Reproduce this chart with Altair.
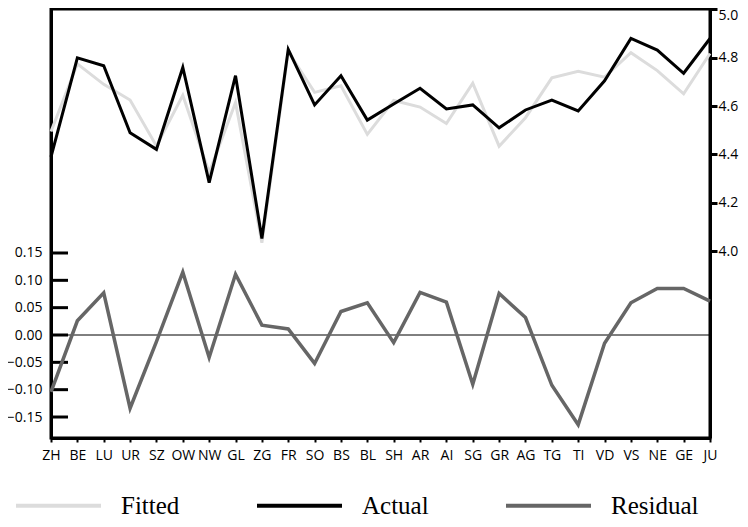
import altair as alt
import pandas as pd

cantons = ["ZH", "BE", "LU", "UR", "SZ", "OW", "NW", "GL", "ZG", "FR", "SO", "BS", "BL",
           "SH", "AR", "AI", "SG", "GR", "AG", "TG", "TI", "VD", "VS", "NE", "GE", "JU"]
actual = [4.390, 4.800, 4.767, 4.490, 4.421, 4.760, 4.283, 4.726, 4.052, 4.835, 4.605, 4.726, 4.542,
          4.609, 4.674, 4.588, 4.605, 4.510, 4.584, 4.625, 4.580, 4.705, 4.880, 4.832, 4.736, 4.880]
fitted = [4.495, 4.775, 4.690, 4.625, 4.435, 4.645, 4.325, 4.615, 4.034, 4.825, 4.657, 4.684, 4.483,
          4.623, 4.596, 4.528, 4.695, 4.434, 4.552, 4.717, 4.744, 4.720, 4.821, 4.747, 4.651, 4.818]
residual = [-0.104, 0.026, 0.077, -0.134, -0.012, 0.115, -0.041, 0.111, 0.018, 0.011, -0.052, 0.043, 0.059,
            -0.014, 0.078, 0.060, -0.090, 0.076, 0.032, -0.092, -0.164, -0.015, 0.059, 0.085, 0.085, 0.062]

resid_ticks = [-0.15, -0.10, -0.05, 0.00, 0.05, 0.10, 0.15]
level_ticks = [4.0, 4.2, 4.4, 4.6, 4.8, 5.0]
series = ["Fitted", "Actual", "Residual"]
colors = ["#dcdcdc", "#000000", "#666666"]

top_df = pd.DataFrame({
    "canton": cantons * 2,
    "value": fitted + actual,
    "series": ["Fitted"] * len(cantons) + ["Actual"] * len(cantons),
    "order": [0] * len(cantons) + [1] * len(cantons),
})
res_df = pd.DataFrame({"canton": cantons, "value": residual, "series": ["Residual"] * len(cantons)})
tick_df = pd.DataFrame({"value": resid_ticks})
zero_df = pd.DataFrame({"value": [0.0]})

common = dict(grid=False, domainColor="black", tickColor="black", labelColor="black",
              labelFont="Open Sans", domainWidth=3, title=None)

x_enc = alt.X("canton:N", sort=cantons,
              scale=alt.Scale(type="point", padding=0, domain=cantons),
              axis=alt.Axis(tickSize=4, tickWidth=2, labelPadding=6,
                            labelFontSize=14, labelAngle=0, **common))

res_scale = alt.Scale(domain=[-0.1884, 0.5963], nice=False, zero=False)
res_axis = alt.Axis(orient="left", values=resid_ticks, format=".2f",
                    ticks=False, tickSize=0, labelPadding=9, labelFontSize=14, **common)
y_res = alt.Y("value:Q", scale=res_scale, axis=res_axis)

legend = alt.Legend(title=None, orient="none", legendX=-37, legendY=452, direction="horizontal",
                    columns=3, symbolType="stroke", symbolSize=7225, symbolStrokeWidth=4,
                    labelFont="Liberation Serif", labelFontSize=25, labelOffset=18,
                    columnPadding=69, padding=0, labelColor="black")
color_enc = alt.Color("series:N", scale=alt.Scale(domain=series, range=colors), legend=legend)

zero_rule = alt.Chart(zero_df).mark_rule(color="black", strokeWidth=1).encode(y=y_res)
tick_rules = alt.Chart(tick_df).mark_rule(color="black", strokeWidth=3).encode(
    y=y_res, x=alt.value(0), x2=alt.value(17))
res_line = alt.Chart(res_df).mark_line(strokeWidth=3.5).encode(x=x_enc, y=y_res, color=color_enc)

resid_group = alt.layer(zero_rule, tick_rules, res_line)

lvl_scale = alt.Scale(domain=[3.226, 5.002], nice=False, zero=False)
lvl_axis = alt.Axis(orient="right", values=level_ticks, format=".1f",
                    tickSize=7, tickWidth=3, labelPadding=1, labelFontSize=14,
                    labelOffset={"expr": "datum.value >= 4.99 ? 6 : 0"}, **common)
top_lines = alt.Chart(top_df).mark_line(strokeWidth=3).encode(
    x=x_enc,
    y=alt.Y("value:Q", scale=lvl_scale, axis=lvl_axis),
    color=color_enc,
    detail="series:N",
    order=alt.Order("order:Q"),
)

chart = alt.layer(resid_group, top_lines).resolve_scale(y="independent").properties(
    width=659, height=429,
    padding={"left": 43, "top": 1, "right": 30, "bottom": 81},
    autosize=alt.AutoSizeParams(type="none"),
    background="white",
).configure_view(stroke="black", strokeWidth=3).configure_axis(
    grid=False, domainColor="black", tickColor="black", labelColor="black",
    labelFont="Open Sans",
)

chart.save("out.html", embed_options={"renderer": "svg", "actions": False})
